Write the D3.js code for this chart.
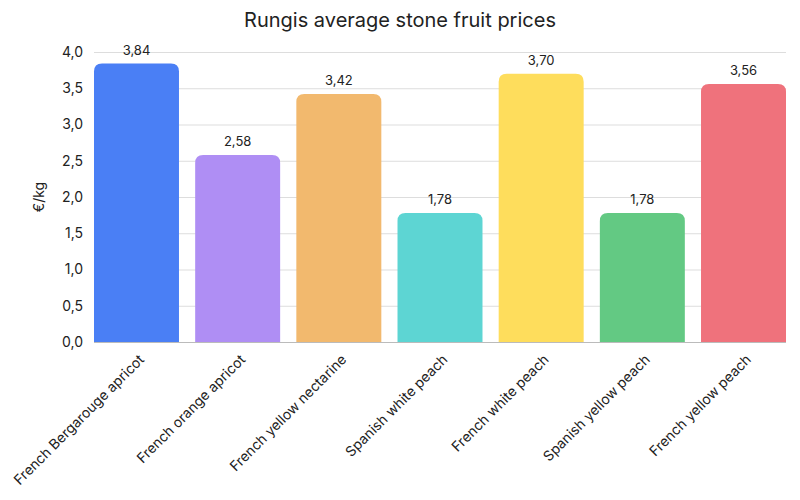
<!DOCTYPE html>
<html>
<head>
<meta charset="utf-8">
<script src="https://cdn.jsdelivr.net/npm/d3@7"></script>
<style>
  body { margin: 0; background: #fff; }
  text { font-family: Inter, "Noto Sans", sans-serif; fill: #222; }
</style>
</head>
<body>
<div id="chart"></div>
<script>
var products = ["French Bergarouge apricot", "French orange apricot", "French yellow nectarine",
  "Spanish white peach", "French white peach", "Spanish yellow peach", "French yellow peach"];
var prices = [3.84, 2.58, 3.42, 1.78, 3.70, 1.78, 3.56];
var colors = ["#4a7ff5", "#af8ef4", "#f2b96e", "#5dd5d3", "#fedd5c", "#63c983", "#ef727c"];
var yTicks = [0, 0.5, 1, 1.5, 2, 2.5, 3, 3.5, 4];

var w = 800, h = 500;
var mLeft = 94, mRight = 786, mTop = 52, mBottom = 342;

var svg = d3.select("#chart").append("svg")
  .attr("width", w)
  .attr("height", h);

var x = d3.scaleBand()
  .domain(products)
  .range([mLeft, mRight])
  .paddingInner(0.16)
  .paddingOuter(0);

var y = d3.scaleLinear()
  .domain([0, 4])
  .range([mBottom, mTop]);

var fmt = function(v) { return d3.format(".1f")(v).replace(".", ","); };
var fmt2 = function(v) { return d3.format(".2f")(v).replace(".", ","); };

// grid
svg.append("g").selectAll("line")
  .data(yTicks)
  .enter().append("line")
  .attr("x1", mLeft)
  .attr("x2", mRight)
  .attr("y1", function(d) { return y(d) + 0.5; })
  .attr("y2", function(d) { return y(d) + 0.5; })
  .attr("stroke", function(d) { return d === 0 ? "#bbb" : "#ddd"; })
  .attr("stroke-width", 1);

// y tick labels
svg.append("g").selectAll("text")
  .data(yTicks)
  .enter().append("text")
  .attr("x", 83)
  .attr("y", function(d) { return y(d); })
  .attr("dy", "0.35em")
  .attr("text-anchor", "end")
  .style("font-size", "14px")
  .text(fmt);

svg.append("text")
  .attr("transform", "translate(44," + (mTop + mBottom) / 2 + ") rotate(-90)")
  .attr("text-anchor", "middle")
  .style("font-size", "14px")
  .text("€/kg");

// bars with rounded tops
var r = 8;
function barPath(d, i) {
  var x0 = x(products[i]), bw = x.bandwidth();
  var yt = y(d), yb = y(0);
  return "M" + x0 + "," + yb +
    "V" + (yt + r) +
    "Q" + x0 + "," + yt + " " + (x0 + r) + "," + yt +
    "H" + (x0 + bw - r) +
    "Q" + (x0 + bw) + "," + yt + " " + (x0 + bw) + "," + (yt + r) +
    "V" + yb + "Z";
}

svg.append("g").selectAll("path")
  .data(prices)
  .enter().append("path")
  .attr("d", barPath)
  .attr("fill", function(d, i) { return colors[i]; });

// value labels
svg.append("g").selectAll("text")
  .data(prices)
  .enter().append("text")
  .attr("x", function(d, i) { return x(products[i]) + x.bandwidth() / 2; })
  .attr("y", function(d) { return y(d) - 9; })
  .attr("text-anchor", "middle")
  .style("font-size", "13px")
  .text(fmt2);

// x labels
svg.append("g").selectAll("text")
  .data(products)
  .enter().append("text")
  .attr("transform", function(d) {
    return "translate(" + (x(d) + x.bandwidth() / 2 + 5) + "," + (mBottom + 15) + ") rotate(-45)";
  })
  .attr("text-anchor", "end")
  .attr("dy", "0.35em")
  .style("font-size", "14px")
  .text(function(d) { return d; });

svg.append("text")
  .attr("x", w / 2)
  .attr("y", 27)
  .attr("text-anchor", "middle")
  .style("font-size", "20px")
  .text("Rungis average stone fruit prices");
</script>
</body>
</html>
